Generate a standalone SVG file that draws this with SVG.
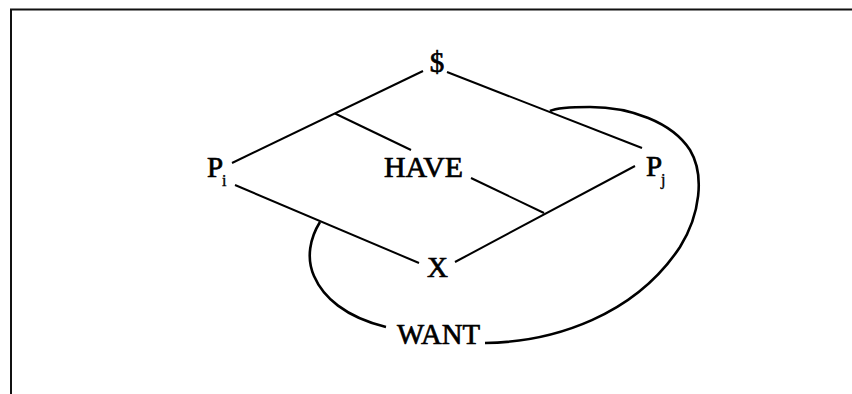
<svg xmlns="http://www.w3.org/2000/svg" width="852" height="394" viewBox="0 0 852 394">
  <style>
    .lbl { font-family: "Liberation Serif", "Times New Roman", serif; font-weight: normal; font-size: 29px; fill: #000; stroke: #000; stroke-width: 0.7; }
    .sub { font-family: "Liberation Serif", "Times New Roman", serif; font-weight: normal; font-size: 16px; fill: #000; stroke: #000; stroke-width: 0.4; }
    .edge { stroke: #000; stroke-width: 2; fill: none; stroke-linecap: butt; }
    .curve { stroke: #000; stroke-width: 2.6; fill: none; }
    .frame { stroke: #111; stroke-width: 2; fill: none; }
  </style>
  <rect x="0" y="0" width="852" height="394" fill="#fff"/>
  <path class="frame" d="M11,394 L11,9.5 L852,9.5"/>

  <g id="connectors">
    <line class="edge" x1="423" y1="71" x2="232" y2="163"/>
    <line class="edge" x1="335" y1="113.5" x2="411" y2="150"/>
    <line class="edge" x1="447" y1="72" x2="642" y2="148"/>
    <line class="edge" x1="235" y1="185" x2="419" y2="263"/>
    <line class="edge" x1="635" y1="166" x2="455" y2="262"/>
    <line class="edge" x1="471" y1="178" x2="544" y2="213"/>
    <path class="curve" d="M320,222 C310,238 306,258 314,276 C323,297 345,317 386,327"/>
    <path class="curve" d="M485,343 C555,342 635,315 680,247 C700,215 705,175 690,150 C672,122 630,107 590,107 C570,107 556,108 550,111"/>
  </g>

  <g id="node-dollar"><text class="lbl" x="437" y="72" text-anchor="middle" font-size="22" font-weight="bold">$</text></g>
  <g id="node-pi"><text class="lbl" x="207" y="177">P</text><text class="sub" x="222" y="186">i</text></g>
  <g id="node-have"><text class="lbl" x="384" y="177" textLength="79" lengthAdjust="spacingAndGlyphs">HAVE</text></g>
  <g id="node-pj"><text class="lbl" x="646" y="176">P</text><text class="sub" x="661" y="185">j</text></g>
  <g id="node-x"><text class="lbl" x="437.5" y="277" text-anchor="middle">X</text></g>
  <g id="node-want"><text class="lbl" x="397" y="344" textLength="83" lengthAdjust="spacingAndGlyphs">WANT</text></g>
</svg>
